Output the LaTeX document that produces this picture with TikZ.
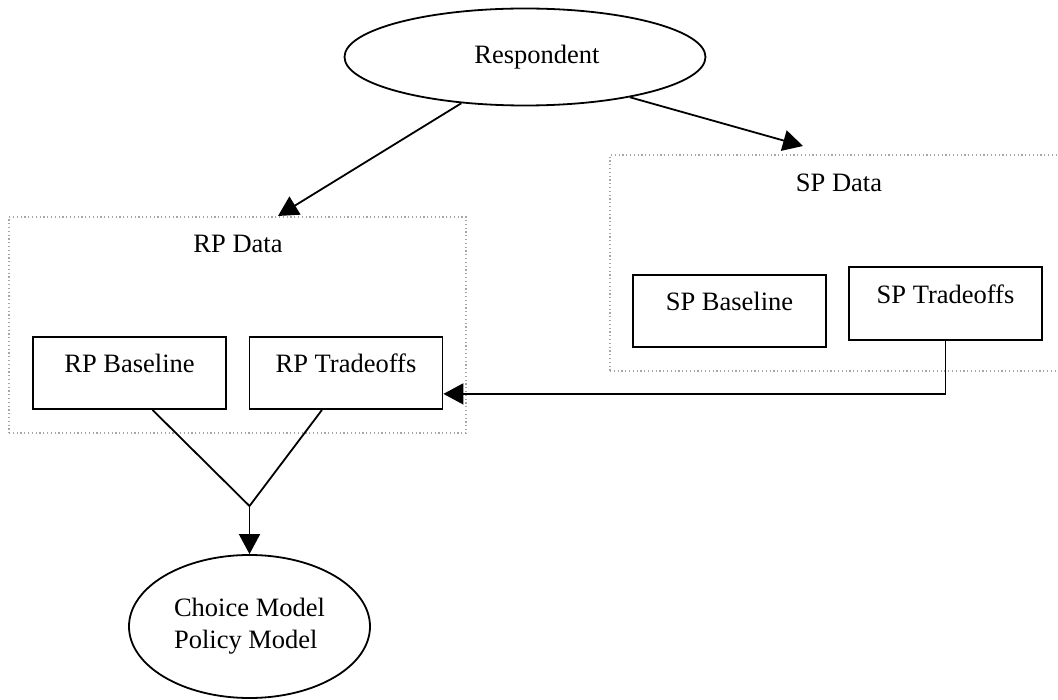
\documentclass[tikz,border=0pt]{standalone}
\usepackage{fontspec}
\setmainfont{Liberation Serif}
\usetikzlibrary{shapes.geometric,arrows.meta}

\begin{document}
\begin{tikzpicture}[x=1pt,y=-1pt,
  every node/.style={font=\fontsize{26.5}{32}\selectfont},
  oval/.style={draw,ellipse,line width=1.8pt,inner sep=0pt},
  datasrc/.style={draw=black!35,line width=1.2pt,dash pattern=on 1.2pt off 2.6pt,inner sep=0pt},
  tbox/.style={draw,line width=1.8pt,minimum width=193pt,minimum height=72pt,inner sep=0pt,text height=12pt,text depth=12pt},
  conn/.style={line width=1.8pt},
  arr/.style={conn,-{Triangle[length=20pt,width=21pt]}}]
\useasboundingbox (0,0) rectangle (1058,700);
\draw (237.5,325) node[datasrc,minimum width=457pt,minimum height=216pt](rpdata) {};
\draw (842.5,263) node[datasrc,minimum width=465pt,minimum height=216pt](spdata) {};
\draw (238,253) node[anchor=base](rplabel) {RP Data};
\draw (839,192) node[anchor=base](splabel) {SP Data};
\draw (525,57) node[oval,minimum width=361pt,minimum height=97pt](resp) {\hspace*{24pt}Respondent};
\draw (129.5,373) node[tbox](rpbase) {RP Baseline};
\draw (346,373) node[tbox](rptrade) {RP Tradeoffs};
\draw (729.5,311) node[tbox](spbase) {SP Baseline};
\draw (945.5,303.5) node[tbox,minimum height=73pt](sptrade) {SP Tradeoffs};
\draw (249.5,626.5) node[oval,minimum width=241pt,minimum height=143pt,align=left](choice) {Choice Model\\Policy Model};
\coordinate (rpin) at (278,216);
\coordinate (spin) at (803,146);
\coordinate (join) at (249.5,506);
\draw[arr] (resp.216) -- (rpin);
\draw[arr] (resp.339) -- (spin);
\draw[conn] ([xshift=23pt]rpbase.south) -- (join);
\draw[conn] ([xshift=-24pt]rptrade.south) -- (join);
\draw[arr] (join) -- (choice);
\draw[arr] (sptrade.south) |- ([yshift=16pt]rptrade.south east);
\end{tikzpicture}
\end{document}
